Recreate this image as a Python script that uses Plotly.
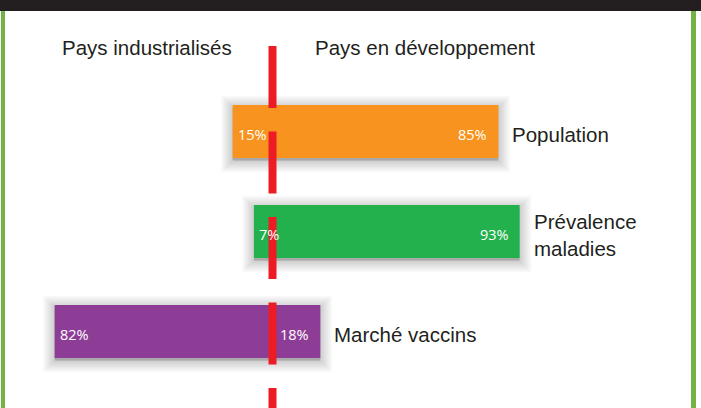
import plotly.graph_objects as go

# ---- data ----
categories = ["Population", "Prévalence<br>maladies", "Marché vaccins"]
industrialised = [15, 7, 82]     # % Pays industrialisés (left of divider)
developing = [85, 93, 18]        # % Pays en développement (right of divider)
bar_colors = ["#f7931e", "#22b14c", "#8e3d97"]
header_left = "Pays industrialisés"
header_right = "Pays en développement"

W, H = 701, 408
center_px = 272.5
px_per_unit = 2.657
x_range = [-center_px / px_per_unit, (W - center_px) / px_per_unit]
y_pos = list(range(len(categories)))
y_range = [(H - 131.5) / 100.0, (0 - 131.5) / 100.0]

bases = [-v for v in industrialised]
totals = [a + b for a, b in zip(industrialised, developing)]

fig = go.Figure()

# soft shadow layers
for w in range(24, 0, -2):
    fig.add_trace(go.Bar(
        y=y_pos, x=totals, base=bases, orientation="h",
        width=0.53, offset=-0.265 + 0.025,
        marker=dict(color="rgba(0,0,0,0.016)",
                    line=dict(color="rgba(0,0,0,0.016)", width=w)),
        hoverinfo="skip", showlegend=False))

fig.add_trace(go.Bar(
    y=y_pos, x=totals, base=bases, orientation="h", width=0.53,
    marker=dict(color=bar_colors, line=dict(width=0)),
    showlegend=False))

annotations = []
pct_font = dict(family="Open Sans, DejaVu Sans, sans-serif", size=14.5, color="white")
lab_font = dict(family="Liberation Sans, Arial, sans-serif", size=20.5, color="#231f20")
for i, cat in enumerate(categories):
    annotations.append(dict(x=-industrialised[i], y=y_pos[i], xref="x", yref="y",
                            text=f"{industrialised[i]}%", showarrow=False,
                            xanchor="left", yanchor="middle", xshift=3, yshift=-3,
                            font=pct_font))
    annotations.append(dict(x=developing[i], y=y_pos[i], xref="x", yref="y",
                            text=f"{developing[i]}%", showarrow=False,
                            xanchor="right", yanchor="middle", xshift=-9, yshift=-3,
                            font=pct_font))
    annotations.append(dict(x=developing[i], y=y_pos[i], xref="x", yref="y",
                            text=cat, showarrow=False, align="left",
                            xanchor="left", yanchor="middle", xshift=12, yshift=-3,
                            font=lab_font))

annotations.append(dict(x=0, y=1 - 47.5 / H, xref="x", yref="paper", text=header_left,
                        showarrow=False, xanchor="right", yanchor="middle", xshift=-39,
                        font=lab_font))
annotations.append(dict(x=0, y=1 - 47.5 / H, xref="x", yref="paper", text=header_right,
                        showarrow=False, xanchor="left", yanchor="middle", xshift=40,
                        font=lab_font))

shapes = [
    # dark top band
    dict(type="rect", xref="paper", yref="paper", x0=0, x1=1, y0=1 - 11 / H, y1=1,
         fillcolor="#231f20", line=dict(width=0), layer="above"),
    # green side borders
    dict(type="rect", xref="paper", yref="paper", x0=1 / W, x1=5 / W, y0=0, y1=1 - 11 / H,
         fillcolor="#72b343", line=dict(width=0), layer="above"),
    dict(type="rect", xref="paper", yref="paper", x0=691 / W, x1=696 / W, y0=0, y1=1 - 11 / H,
         fillcolor="#72b343", line=dict(width=0), layer="above"),
    # red dashed divider
    dict(type="line", xref="x", yref="paper", x0=0, x1=0, y0=1 - 46 / H, y1=0,
         line=dict(color="#ed1c24", width=8, dash="62px,23.5px"), layer="above"),
]

fig.update_layout(
    width=W, height=H,
    margin=dict(l=0, r=0, t=0, b=0),
    paper_bgcolor="white", plot_bgcolor="white",
    barmode="overlay",
    xaxis=dict(range=x_range, visible=False, fixedrange=True),
    yaxis=dict(range=y_range, visible=False, fixedrange=True),
    annotations=annotations, shapes=shapes,
    showlegend=False,
)

fig.write_html("out.html", config={"displayModeBar": False},
               post_script="document.body.style.margin='0';document.body.style.overflow='hidden';")
